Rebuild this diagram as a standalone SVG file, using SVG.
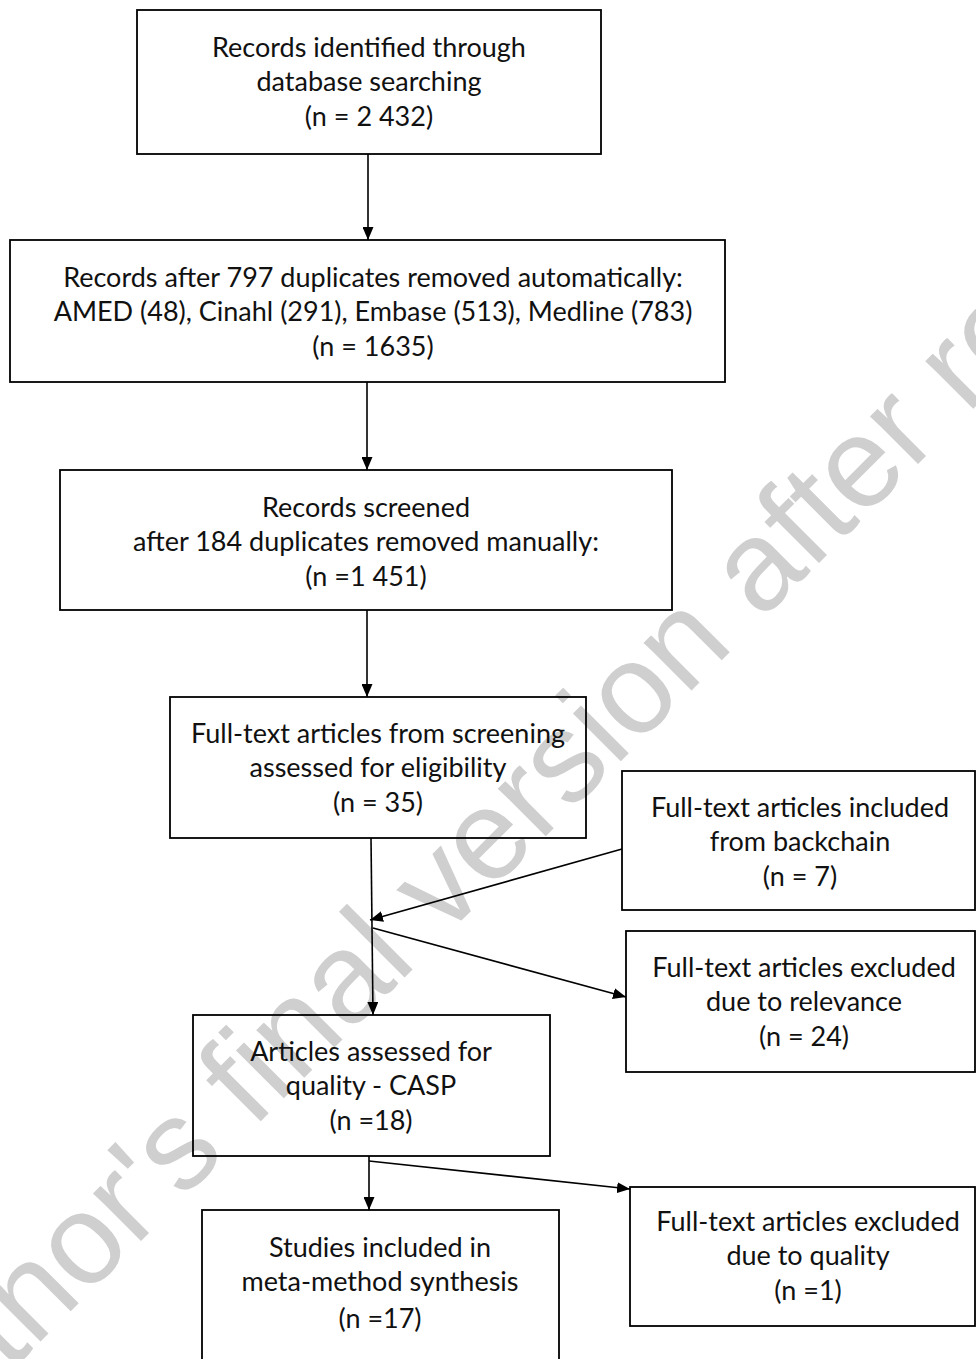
<svg xmlns="http://www.w3.org/2000/svg" width="976" height="1359" viewBox="0 0 976 1359">
<style>
.box{fill:none;stroke:#000;stroke-width:1.8}
.t{font-family:Lato,"Open Sans",sans-serif;font-size:27px;fill:#111;text-anchor:middle}
.c{stroke:#000;stroke-width:1.6;fill:none;marker-end:url(#ah)}
.wm{font-family:"Liberation Sans",Arial,sans-serif;font-size:128px;fill:#cfcfcf}
</style>
<defs>
<marker id="ah" markerUnits="userSpaceOnUse" markerWidth="13" markerHeight="11" refX="13" refY="5.5" orient="auto">
<path d="M0,0 L13,5.5 L0,11 z" fill="#000"/>
</marker>
</defs>
<rect width="976" height="1359" fill="#fff"/>
<text class="wm" transform="translate(9,1373) rotate(-45)">thor's final version after re</text>
<g id="n1"><rect class="box" x="137" y="10" width="464" height="144"/>
<text class="t" x="369" y="57">Records identified through</text>
<text class="t" x="369" y="91">database searching</text>
<text class="t" x="369" y="126">(n = 2 432)</text></g>
<g id="n2"><rect class="box" x="10" y="240" width="715" height="142"/>
<text class="t" x="373" y="287">Records after 797 duplicates removed automatically:</text>
<text class="t" x="373" y="321">AMED (48), Cinahl (291), Embase (513), Medline (783)</text>
<text class="t" x="373" y="356">(n = 1635)</text></g>
<g id="n3"><rect class="box" x="60" y="470" width="612" height="140"/>
<text class="t" x="366" y="517">Records screened</text>
<text class="t" x="366" y="551">after 184 duplicates removed manually:</text>
<text class="t" x="366" y="586">(n =1 451)</text></g>
<g id="n4"><rect class="box" x="170" y="697" width="416" height="141"/>
<text class="t" x="378" y="743">Full-text articles from screening</text>
<text class="t" x="378" y="777">assessed for eligibility</text>
<text class="t" x="378" y="812">(n = 35)</text></g>
<g id="n5"><rect class="box" x="622" y="771" width="353" height="139"/>
<text class="t" x="800" y="817">Full-text articles included</text>
<text class="t" x="800" y="851">from backchain</text>
<text class="t" x="800" y="886">(n = 7)</text></g>
<g id="n6"><rect class="box" x="626" y="931" width="349" height="141"/>
<text class="t" x="804" y="977">Full-text articles excluded</text>
<text class="t" x="804" y="1011">due to relevance</text>
<text class="t" x="804" y="1046">(n = 24)</text></g>
<g id="n7"><rect class="box" x="193" y="1015" width="357" height="141"/>
<text class="t" x="371" y="1061">Articles assessed for</text>
<text class="t" x="371" y="1095">quality - CASP</text>
<text class="t" x="371" y="1130">(n =18)</text></g>
<g id="n8"><rect class="box" x="630" y="1187" width="345" height="139"/>
<text class="t" x="808" y="1231">Full-text articles excluded</text>
<text class="t" x="808" y="1265">due to quality</text>
<text class="t" x="808" y="1300">(n =1)</text></g>
<g id="n9"><rect class="box" x="202" y="1210" width="357" height="160"/>
<text class="t" x="380" y="1257">Studies included in</text>
<text class="t" x="380" y="1291">meta-method synthesis</text>
<text class="t" x="380" y="1328">(n =17)</text></g>
<g id="connectors">
<line class="c" x1="368" y1="154" x2="368" y2="240"/>
<line class="c" x1="367" y1="382" x2="367" y2="470"/>
<line class="c" x1="367" y1="610" x2="367" y2="697"/>
<line class="c" x1="371" y1="838" x2="373" y2="1015"/>
<line class="c" x1="622" y1="849" x2="370" y2="920"/>
<line class="c" x1="373" y1="928" x2="626" y2="997"/>
<line class="c" x1="369" y1="1156" x2="369" y2="1210"/>
<line class="c" x1="369" y1="1161" x2="630" y2="1189"/>
</g>
</svg>
